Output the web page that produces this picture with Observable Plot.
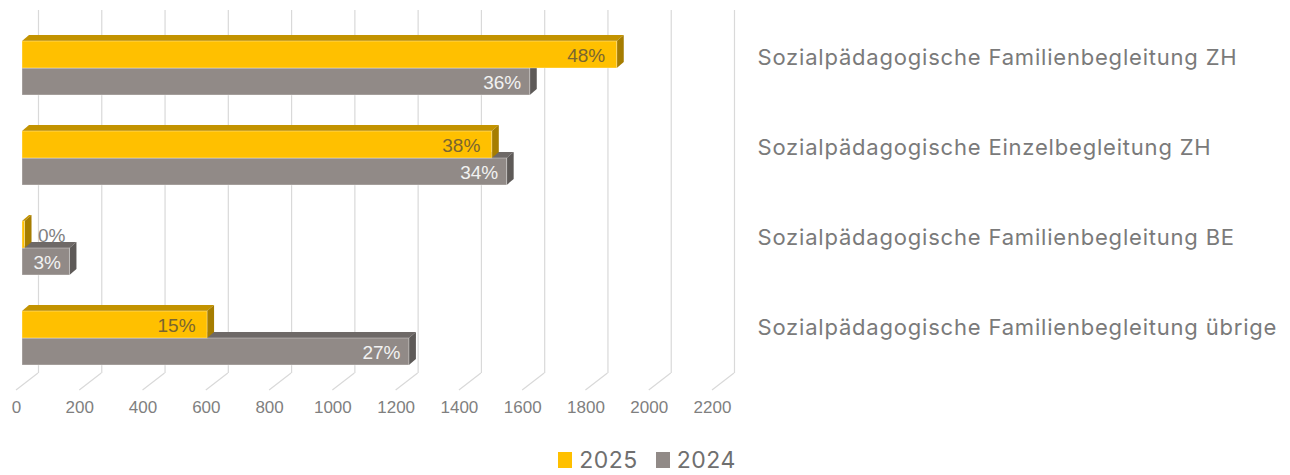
<!DOCTYPE html>
<html>
<head>
<meta charset="utf-8">
<script src="https://cdn.jsdelivr.net/npm/d3@7"></script>
<script src="https://cdn.jsdelivr.net/npm/@observablehq/plot@0.6"></script>
<style>
  body { margin: 0; background: #fff; }
  #chart { width: 1290px; }
  #chart g[aria-label="y-axis tick label"] text { letter-spacing: 0.8px; }
  .legend { display: flex; justify-content: center; gap: 18px; margin-top: 16px; padding-left: 4px; font: 23px Inter, "Open Sans", sans-serif; letter-spacing: 0.5px; color: #6f6f6f; }
  .legend span { display: inline-flex; align-items: center; }
  .legend i { display: inline-block; width: 14px; height: 16px; margin-right: 7px; }
</style>
</head>
<body>
<div id="chart"></div>
<script>
const categories = [
  "Sozialpädagogische Familienbegleitung ZH",
  "Sozialpädagogische Einzelbegleitung ZH",
  "Sozialpädagogische Familienbegleitung BE",
  "Sozialpädagogische Familienbegleitung übrige"
];
const years = ["2025", "2024"];
const values2025 = [1880, 1485, 8, 585];
const values2024 = [1605, 1532, 150, 1223];
const labels2025 = ["48%", "38%", "0%", "15%"];
const labels2024 = ["36%", "34%", "3%", "27%"];
const xTicks = [0, 200, 400, 600, 800, 1000, 1200, 1400, 1600, 1800, 2000, 2200];

const colors = {
  "2025": {front: "#FFC000", top: "#C39300", side: "#A67D00", text: "#7a6630"},
  "2024": {front: "#918A87", top: "#6E6967", side: "#5E5A58", text: "#F2F2F2"}
};

const rows2025 = categories.map((c, i) => ({category: c, value: values2025[i], label: labels2025[i], year: years[0]}));
const rows2024 = categories.map((c, i) => ({category: c, value: values2024[i], label: labels2024[i], year: years[1]}));

const DEPTH = [7, 6];
const HALF = 27;
const labelFont = "'Liberation Sans', Arial, sans-serif";

function bar3d(rows, year, half) {
  const col = colors[year];
  return Plot.barX(rows, {
    x: "value", y: "category", fill: col.front,
    insetTop: half === "bottom" ? HALF : 0,
    insetBottom: half === "top" ? HALF : 0,
    render(index, scales, values, dims, ctx, next) {
      const g = next(index, scales, values, dims, ctx);
      const rects = Array.from(g.querySelectorAll("rect"));
      const ns = "http://www.w3.org/2000/svg";
      for (const r of rects) {
        const x = +r.getAttribute("x"), y = +r.getAttribute("y");
        const w = +r.getAttribute("width"), h = +r.getAttribute("height");
        const [dx, dy] = DEPTH;
        const top = document.createElementNS(ns, "polygon");
        top.setAttribute("points", `${x},${y} ${x+dx},${y-dy} ${x+w+dx},${y-dy} ${x+w},${y}`);
        top.setAttribute("fill", col.top);
        const side = document.createElementNS(ns, "polygon");
        side.setAttribute("points", `${x+w},${y} ${x+w+dx},${y-dy} ${x+w+dx},${y+h-dy} ${x+w},${y+h}`);
        side.setAttribute("fill", col.side);
        r.parentNode.insertBefore(top, r);
        r.parentNode.insertBefore(side, r);
        r.setAttribute("stroke", "rgba(255,255,255,0.35)");
        r.setAttribute("stroke-width", "1");
      }
      return g;
    }
  });
}

function floorLines(index, scales) {
  const g = d3.create("svg:g").attr("stroke", "#d9d9d9").attr("stroke-width", 1.2);
  for (const t of xTicks) {
    const X = scales.x(t);
    g.append("line").attr("x1", X + 16).attr("y1", 373).attr("x2", X - 6).attr("y2", 390);
  }
  return g.node();
}

const chart = Plot.plot({
  width: 1290,
  height: 430,
  marginLeft: 22,
  marginRight: 572,
  marginTop: 41,
  marginBottom: 65,
  style: {background: "#fff"},
  x: {domain: [0, 2200], ticks: xTicks},
  y: {domain: categories, paddingInner: 0.4, paddingOuter: 0},
  marks: [
    Plot.ruleX(xTicks, {x: d => d, dx: 16, insetTop: -31, insetBottom: -8, stroke: "#d9d9d9", strokeWidth: 1.2}),
    floorLines,
    Plot.axisX({ticks: xTicks, tickFormat: d3.format("d"), tickSize: 0, tickPadding: 35, dx: -6, fontSize: 17,
      fontFamily: labelFont, color: "#7f7f7f", label: null}),
    Plot.axisY({anchor: "right", tickSize: 0, tickPadding: 39, dy: -11, fontSize: 22,
      fontFamily: "Inter, 'Open Sans', sans-serif", color: "#7a7a7a", label: null}),
    bar3d(rows2024, "2024", "bottom"),
    bar3d(rows2025, "2025", "top"),
    Plot.text(rows2024, {x: "value", y: "category", text: "label", dy: 14, dx: -9,
      textAnchor: "end", fill: colors["2024"].text, fontSize: 19, fontFamily: labelFont}),
    Plot.text(rows2025.filter(d => d.value >= 100), {x: "value", y: "category", text: "label", dy: -13, dx: -12,
      textAnchor: "end", fill: colors["2025"].text, fontSize: 19, fontFamily: labelFont}),
    Plot.text(rows2025.filter(d => d.value < 100), {x: "value", y: "category", text: "label", dy: -13, dx: 13,
      textAnchor: "start", fill: "#7f7f7f", fontSize: 19, fontFamily: labelFont})
  ]
});
document.getElementById("chart").append(chart);

const legend = document.createElement("div");
legend.className = "legend";
for (const yr of years) {
  const s = document.createElement("span");
  const sw = document.createElement("i");
  sw.style.background = colors[yr].front;
  s.append(sw, document.createTextNode(yr));
  legend.append(s);
}
document.getElementById("chart").append(legend);
</script>
</body>
</html>
